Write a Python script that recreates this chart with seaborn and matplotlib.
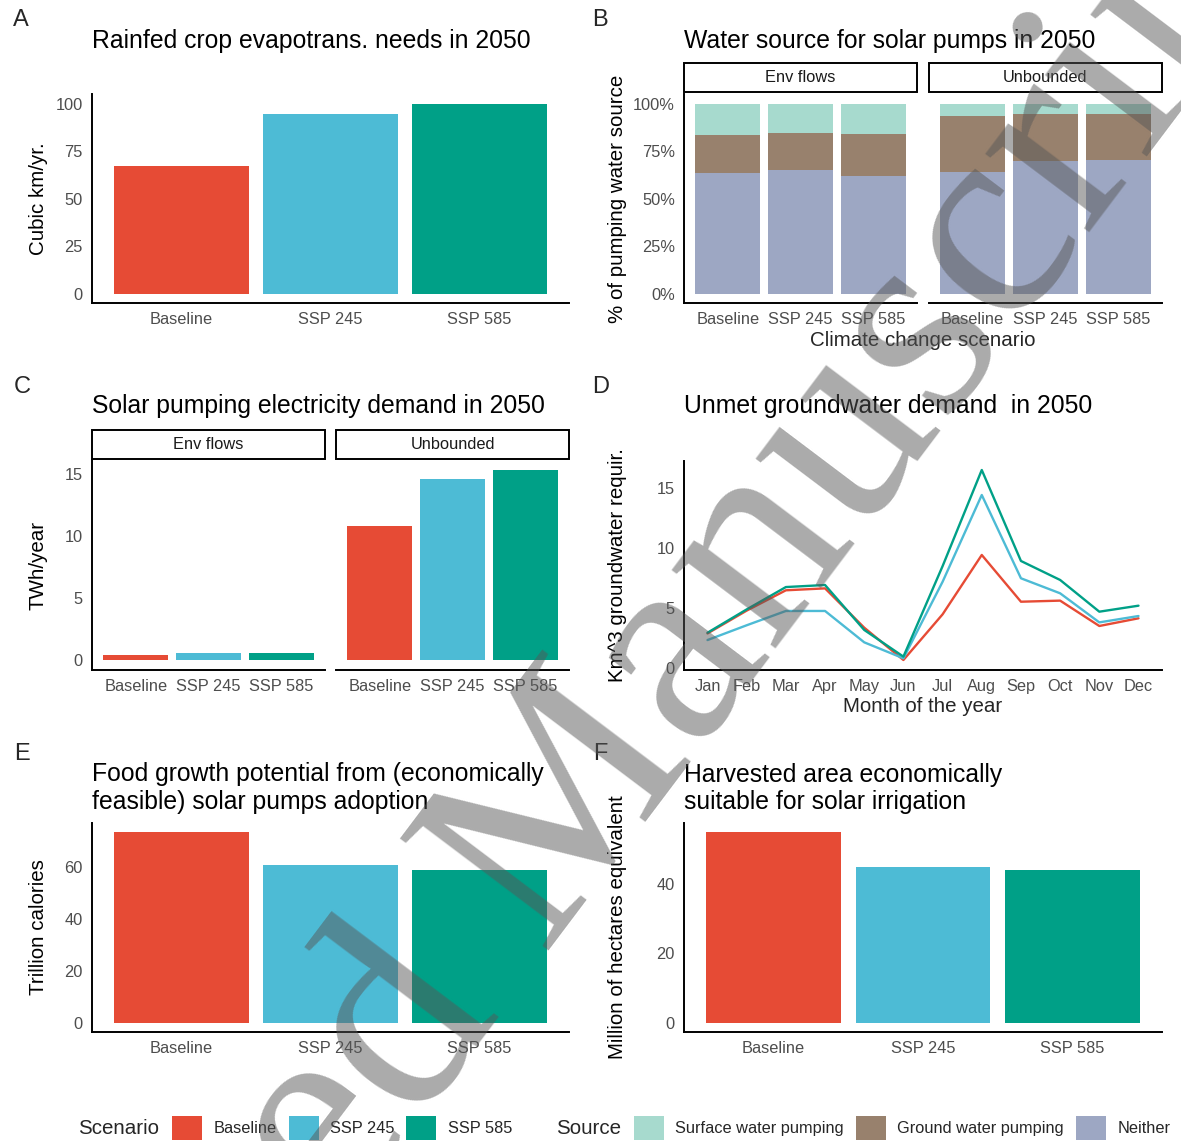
import numpy as np
import pandas as pd
import matplotlib
matplotlib.use("Agg")
import matplotlib.pyplot as plt
from matplotlib.colors import to_rgb
from matplotlib.patches import Rectangle, Patch
import seaborn as sns

# ---------------------------------------------------------------- data
scenarios = ["Baseline", "SSP 245", "SSP 585"]
scenario_colors = ["#E64B35", "#4DBBD5", "#00A087"]

# A: rainfed crop evapotranspiration needs (cubic km / yr)
rainfed_et = [67.0, 94.6, 100.0]

# B: share of pumped water by source (%)
sources = ["Surface water pumping", "Ground water pumping", "Neither"]
source_colors = ["#91D1C2", "#7E6148", "#8491B4"]
facets = ["Env flows", "Unbounded"]
envflow_neither = [63.7, 64.9, 62.1]
envflow_ground = [19.8, 19.5, 22.1]
envflow_surface = [16.5, 15.6, 15.8]
unbounded_neither = [64.0, 69.8, 70.4]
unbounded_ground = [29.7, 24.8, 24.3]
unbounded_surface = [6.3, 5.4, 5.3]

# C: solar pumping electricity demand (TWh / year)
envflow_twh = [0.43, 0.56, 0.56]
unbounded_twh = [10.8, 14.55, 15.32]

# D: unmet groundwater demand by month (km^3)
months = ["Jan", "Feb", "Mar", "Apr", "May", "Jun",
          "Jul", "Aug", "Sep", "Oct", "Nov", "Dec"]
unmet_baseline = [2.90, 4.80, 6.49, 6.65, 3.38, 0.69, 4.49, 9.43, 5.54, 5.63, 3.52, 4.16]
unmet_ssp245 = [2.35, 3.58, 4.77, 4.77, 2.16, 0.83, 7.20, 14.42, 7.49, 6.24, 3.82, 4.35]
unmet_ssp585 = [2.96, 4.90, 6.76, 6.93, 3.19, 0.97, 8.50, 16.50, 8.93, 7.35, 4.71, 5.21]

# E: food growth potential (trillion calories)
food_calories = [73.5, 60.8, 58.7]

# F: harvested area suitable for solar irrigation (million ha)
harvested_area = [54.9, 44.9, 44.1]

# ---------------------------------------------------------------- style
sns.set_style("white")
plt.rcParams["font.family"] = ["Liberation Sans", "DejaVu Sans"]

W, H = 1181, 1141
fig = plt.figure(figsize=(W / 100, H / 100), dpi=100)
fig.patch.set_facecolor("white")

TITLE_FS = 17.8
AXTITLE_FS = 14.8
TICK_FS = 11.8
SPINE_W = 1.4
TICK_GREY = "#4D4D4D"


def box(l, t, r, b):
    return [l / W, 1 - b / H, (r - l) / W, (b - t) / H]


def fx(px):
    return px / W


def fy(py):
    return 1 - py / H


def blend(c, a=0.8):
    rgb = np.array(to_rgb(c))
    return tuple(a * rgb + (1 - a))


def expand(values, lo=0.0):
    lo = min(lo, min(values))
    hi = max(values)
    pad = 0.05 * (hi - lo)
    return lo - pad, hi + pad


def style(ax, show_y=True):
    for s in ["top", "right"]:
        ax.spines[s].set_visible(False)
    ax.spines["bottom"].set_linewidth(SPINE_W)
    ax.spines["bottom"].set_color("black")
    if show_y:
        ax.spines["left"].set_linewidth(SPINE_W)
        ax.spines["left"].set_color("black")
    else:
        ax.spines["left"].set_visible(False)
        ax.tick_params(axis="y", left=False, labelleft=False)
    ax.tick_params(axis="both", length=4.0, width=1.0, color="#333333",
                   labelcolor=TICK_GREY, labelsize=TICK_FS, pad=2.5)
    ax.set_xlabel("")
    ax.set_ylabel("")
    ax.grid(False)
    ax.set_facecolor("white")


def strip(l, t, r, b, text):
    fig.add_artist(Rectangle((fx(l), fy(b)), (r - l) / W, (b - t) / H,
                             transform=fig.transFigure, facecolor="white",
                             edgecolor="black", linewidth=SPINE_W))
    fig.text(fx((l + r) / 2), fy((t + b) / 2), text, ha="center", va="center",
             fontsize=TICK_FS, color="#1A1A1A")


def title(x, y, text):
    # y is the baseline of the last line
    fig.text(fx(x), fy(y), text, ha="left", va="baseline",
             fontsize=TITLE_FS, color="black", linespacing=1.164)


def ylabel(x, y, text):
    fig.text(fx(x), fy(y), text, rotation=90, ha="center", va="center",
             fontsize=AXTITLE_FS, color="black")


def scenario_bars(ax, values):
    sns.barplot(x=scenarios, y=values, hue=scenarios, order=scenarios,
                hue_order=scenarios, palette=scenario_colors, width=0.9,
                saturation=1, legend=False, linewidth=0, ax=ax)
    ax.set_xlim(-0.6, len(scenarios) - 0.4)


# ---------------------------------------------------------------- panel labels
for lab, x, y in [("A", 13, 26), ("B", 592, 26), ("C", 14, 393),
                  ("D", 592, 393), ("E", 14, 760), ("F", 593, 760)]:
    fig.text(fx(x), fy(y), lab, ha="left", va="baseline", fontsize=17.0)

# ---------------------------------------------------------------- A
axA = fig.add_axes(box(92, 94.2, 569, 303.2))
scenario_bars(axA, rainfed_et)
axA.set_ylim(*expand(rainfed_et))
axA.set_yticks([0, 25, 50, 75, 100])
style(axA)
title(92, 48, "Rainfed crop evapotrans. needs in 2050")
ylabel(38.5, 198.7, "Cubic km/yr.")

# ---------------------------------------------------------------- B
b_neither = [envflow_neither, unbounded_neither]
b_ground = [envflow_ground, unbounded_ground]
b_surface = [envflow_surface, unbounded_surface]
b_boxes = [(684, 917), (929, 1162)]
for i, facet in enumerate(facets):
    l, r = b_boxes[i]
    ax = fig.add_axes(box(l, 94.2, r, 303.2))
    df = pd.DataFrame({"scenario": scenarios,
                       "Neither": b_neither[i],
                       "Ground": b_ground[i],
                       "Surface": b_surface[i]})
    df["top_surface"] = df["Neither"] + df["Ground"] + df["Surface"]
    df["top_ground"] = df["Neither"] + df["Ground"]
    df["top_neither"] = df["Neither"]
    for col, c in [("top_surface", source_colors[0]),
                   ("top_ground", source_colors[1]),
                   ("top_neither", source_colors[2])]:
        sns.barplot(data=df, x="scenario", y=col, order=scenarios,
                    color=blend(c), saturation=1, width=0.9, linewidth=0,
                    ax=ax)
    ax.set_xlim(-0.6, 2.6)
    ax.set_ylim(-5, 105)
    ax.set_yticks([0, 25, 50, 75, 100])
    ax.set_yticklabels(["0%", "25%", "50%", "75%", "100%"])
    style(ax, show_y=(i == 0))
    strip(l, 63, r, 92, facet)
title(684, 48, "Water source for solar pumps in 2050")
ylabel(617.5, 198.7, "% of pumping water source")
fig.text(fx(923), fy(341), "Climate change scenario", ha="center", va="center",
         fontsize=AXTITLE_FS)

# ---------------------------------------------------------------- C
c_values = [envflow_twh, unbounded_twh]
c_boxes = [(92, 325), (336, 569)]
c_lim = expand(envflow_twh + unbounded_twh)
for i, facet in enumerate(facets):
    l, r = c_boxes[i]
    ax = fig.add_axes(box(l, 460.4, r, 669.8))
    scenario_bars(ax, c_values[i])
    ax.set_ylim(*c_lim)
    ax.set_yticks([0, 5, 10, 15])
    style(ax, show_y=(i == 0))
    strip(l, 430, r, 459, facet)
title(92, 413, "Solar pumping electricity demand in 2050")
ylabel(38.5, 565, "TWh/year")

# ---------------------------------------------------------------- D
axD = fig.add_axes(box(684, 460.5, 1162, 669.5))
d_all = unmet_baseline + unmet_ssp245 + unmet_ssp585
df_d = pd.DataFrame({
    "month": months * 3,
    "value": d_all,
    "scenario": np.repeat(scenarios, len(months)),
})
sns.lineplot(data=df_d, x="month", y="value", hue="scenario",
             hue_order=scenarios, palette=scenario_colors, sort=False,
             linewidth=1.7, legend=False, ax=axD)
axD.set_xlim(-0.6, len(months) - 0.4)
axD.set_ylim(*expand(d_all, lo=min(d_all)))
axD.set_yticks([0, 5, 10, 15])
style(axD)
title(684, 413, "Unmet groundwater demand  in 2050")
ylabel(617.5, 565, "Km^3 groundwater requir.")
fig.text(fx(923), fy(707), "Month of the year", ha="center", va="center",
         fontsize=AXTITLE_FS)

# ---------------------------------------------------------------- E
axE = fig.add_axes(box(92, 822.5, 569, 1032.3))
scenario_bars(axE, food_calories)
axE.set_ylim(*expand(food_calories))
axE.set_yticks([0, 20, 40, 60])
style(axE)
title(92, 808.5, "Food growth potential from (economically\nfeasible) solar pumps adoption")
ylabel(38.5, 927.5, "Trillion calories")

# ---------------------------------------------------------------- F
axF = fig.add_axes(box(684, 822.5, 1162, 1032.3))
scenario_bars(axF, harvested_area)
axF.set_ylim(*expand(harvested_area))
axF.set_yticks([0, 20, 40])
style(axF)
title(684, 809, "Harvested area economically\nsuitable for solar irrigation")
ylabel(617.5, 927.5, "Million of hectares equivalent")

# ---------------------------------------------------------------- legends
leg_kw = dict(loc="center left", frameon=False, fontsize=TICK_FS,
              handlelength=1.83, handleheight=1.8, handletextpad=0.68,
              columnspacing=0.75, borderpad=0, borderaxespad=0)
fig.text(fx(78), fy(1128), "Scenario", ha="left", va="center", fontsize=AXTITLE_FS)
fig.legend(handles=[Patch(facecolor=c, edgecolor="none", label=s)
                    for s, c in zip(scenarios, scenario_colors)],
           ncol=3, bbox_to_anchor=(fx(172), fy(1128)), **leg_kw)
fig.text(fx(556), fy(1128), "Source", ha="left", va="center", fontsize=AXTITLE_FS)
fig.legend(handles=[Patch(facecolor=blend(c), edgecolor="none", label=s)
                    for s, c in zip(sources, source_colors)],
           ncol=3, bbox_to_anchor=(fx(634), fy(1128)), **leg_kw)

# ---------------------------------------------------------------- manuscript stamp
WM_TEXT = "Accepted Manuscript"
WM_ANGLE = 53.0
WM_SIZE = 205
WM_FONT = "Liberation Serif"
m_start = (544, 957)  # baseline start of "Manuscript", in pixels from top-left
renderer = fig.canvas.get_renderer()
probe_full = fig.text(0, 0, WM_TEXT, fontsize=WM_SIZE, family=WM_FONT)
probe_tail = fig.text(0, 0, "Manuscript", fontsize=WM_SIZE, family=WM_FONT)
offset = (probe_full.get_window_extent(renderer).width
          - probe_tail.get_window_extent(renderer).width)
probe_full.remove()
probe_tail.remove()
ang = np.deg2rad(WM_ANGLE)
sx = m_start[0] - offset * np.cos(ang)
sy = m_start[1] + offset * np.sin(ang)
fig.text(fx(sx), fy(sy), WM_TEXT, rotation=WM_ANGLE, rotation_mode="anchor",
         ha="left", va="baseline", fontsize=WM_SIZE, family=WM_FONT,
         color="#575757", alpha=0.5, zorder=10)

fig.savefig("out.png", dpi=100, facecolor="white")
